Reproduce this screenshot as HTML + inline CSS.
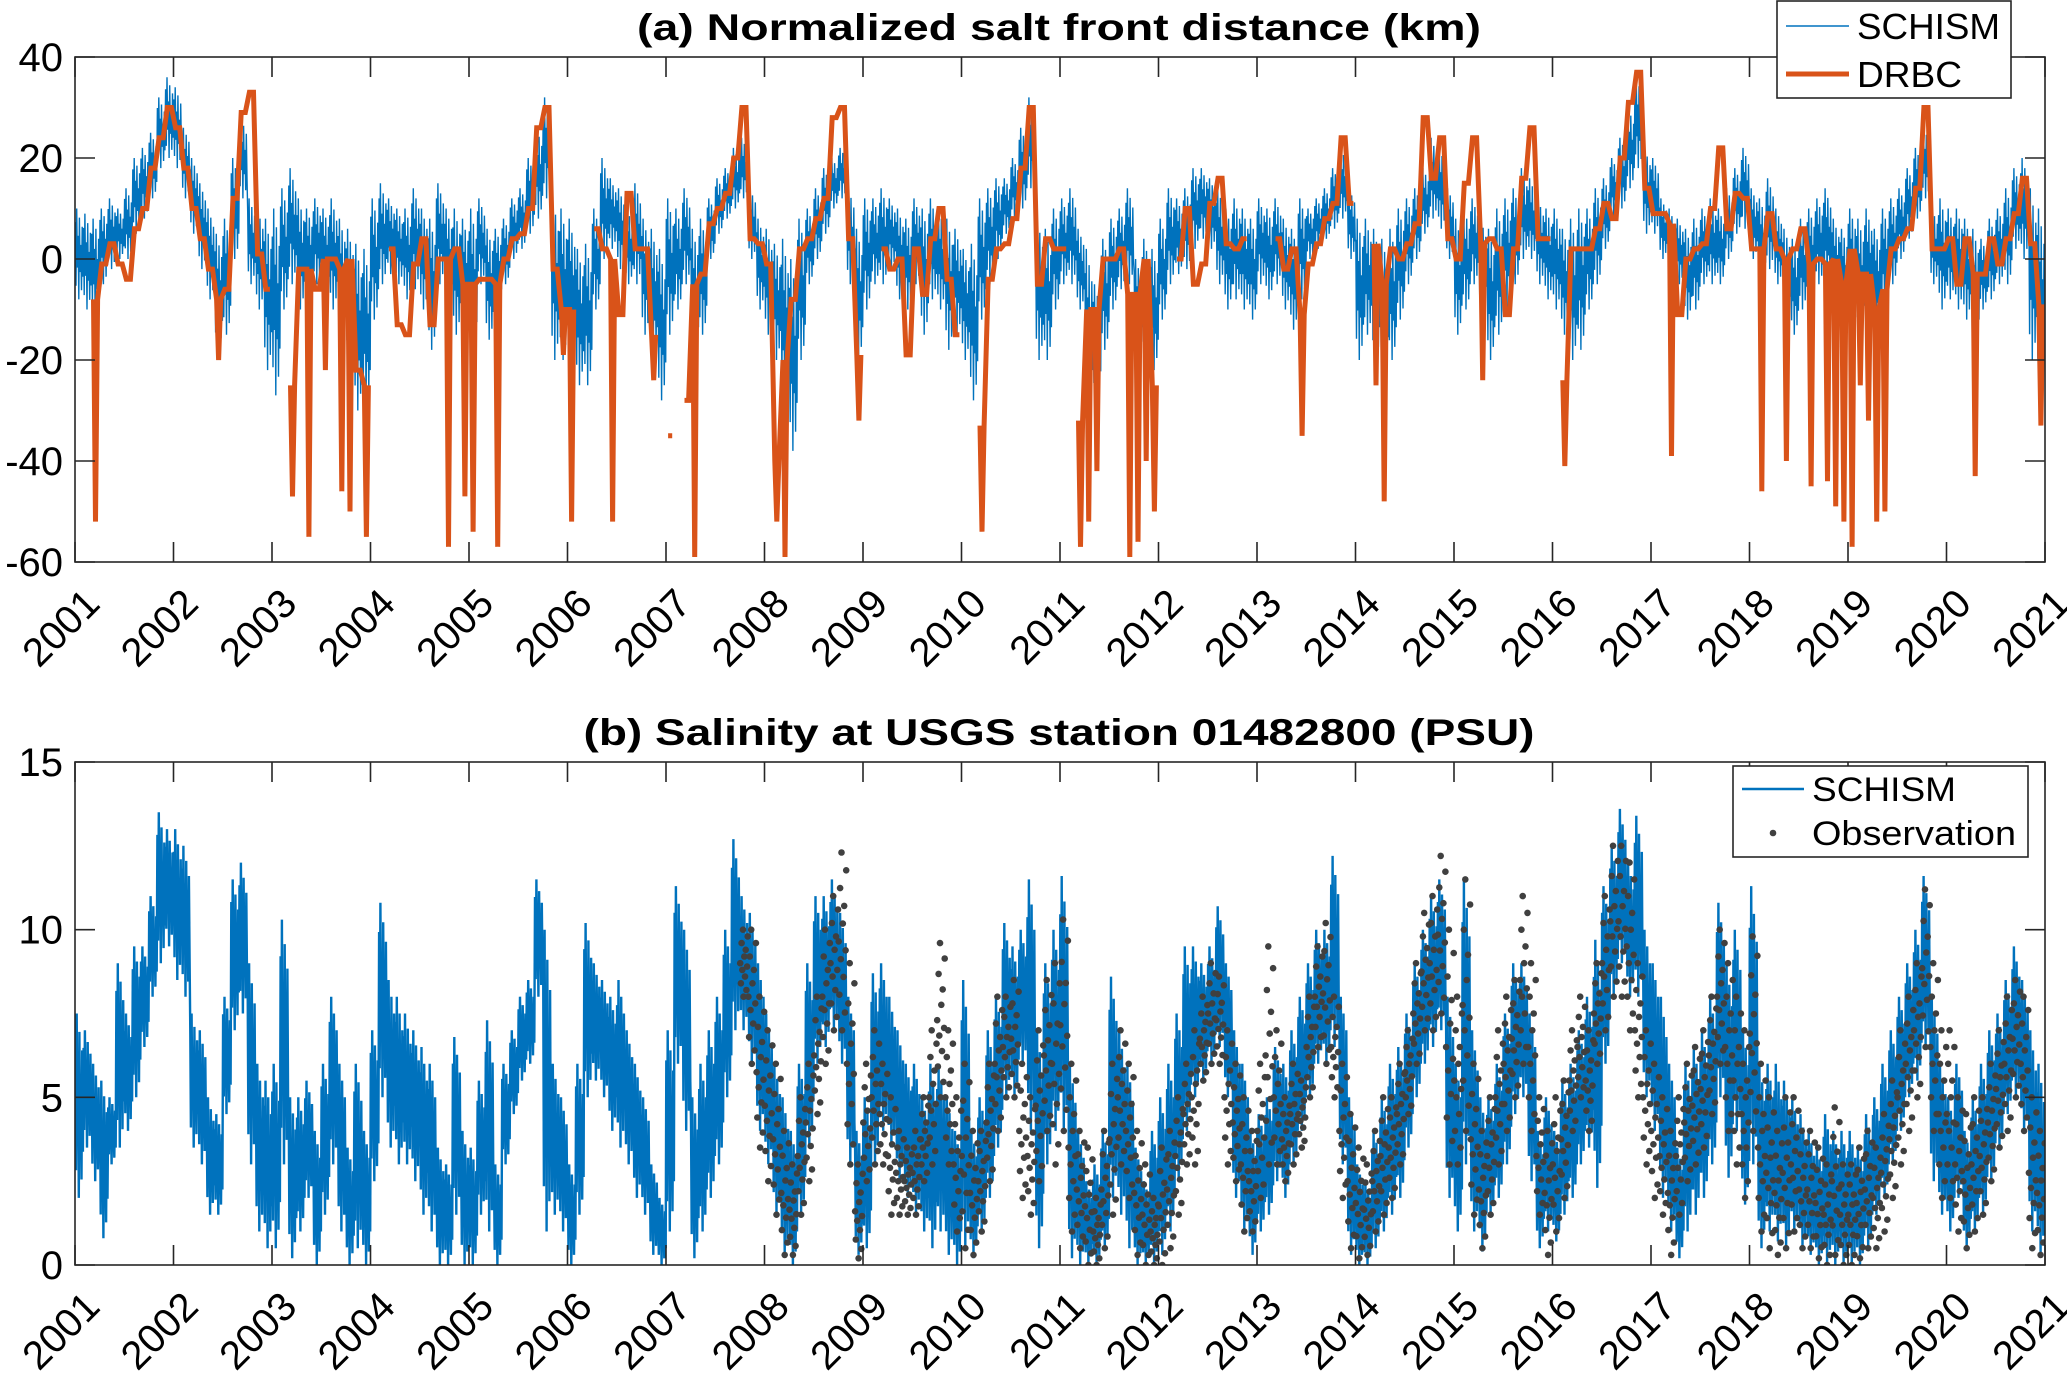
<!DOCTYPE html>
<html><head><meta charset="utf-8"><style>
html,body{margin:0;padding:0;background:#fff;}
svg{display:block;font-family:"Liberation Sans",Arial,sans-serif;}
</style></head><body>
<svg id="chart" width="2067" height="1373" viewBox="0 0 2067 1373" xmlns="http://www.w3.org/2000/svg">
<rect width="2067" height="1373" fill="#fff"/>
<g id="gA"></g>
<g id="gB"></g>
<text x="1059" y="40" text-anchor="middle" font-weight="bold" font-size="37" textLength="844" lengthAdjust="spacingAndGlyphs">(a) Normalized salt front distance (km)</text>
<text x="1059" y="745" text-anchor="middle" font-weight="bold" font-size="37" textLength="951" lengthAdjust="spacingAndGlyphs">(b) Salinity at USGS station 01482800 (PSU)</text>
<g>
<rect x="1777" y="1" width="234" height="97" fill="#fff" stroke="#262626" stroke-width="1.6"/>
<line x1="1786" y1="26" x2="1849" y2="26" stroke="#0072BD" stroke-width="1.6"/>
<text x="1857" y="39" font-size="36" textLength="143" lengthAdjust="spacingAndGlyphs">SCHISM</text>
<line x1="1786" y1="74" x2="1849" y2="74" stroke="#D95319" stroke-width="5"/>
<text x="1857" y="87" font-size="36" textLength="105" lengthAdjust="spacingAndGlyphs">DRBC</text>
</g>
</svg>
<script>
const N = null;
const yearLabels = [2001,2002,2003,2004,2005,2006,2007,2008,2009,2010,2011,2012,2013,2014,2015,2016,2017,2018,2019,2020,2021];
const yTicksA = [40,20,0,-20,-40,-60];
const yTicksB = [15,10,5,0];
const schA_hi = [].concat(
[10,9,8,10,12,10,14,20,22,25,32,36],
[34,26,20,15,10,5,8,20,28,12,10,8],
[10,14,18,12,10,12,10,12,8,6,3,2],
[12,15,12,10,10,14,10,8,15,10,10,8],
[10,12,6,6,8,12,14,20,26,32,12,10],
[8,2,3,10,20,16,14,10,15,8,6,2],
[12,10,14,6,8,12,16,18,22,24,14,8],
[6,3,4,0,8,10,14,18,20,22,14,6],
[12,12,14,12,10,8,12,10,12,10,8,6],
[2,3,12,14,16,16,20,26,32,8,6,10],
[12,14,6,2,-5,4,8,10,14,0,4,2],
[8,14,12,14,18,18,16,14,10,12,10,8],
[12,10,12,8,6,12,10,12,14,18,22,14],
[8,8,6,4,6,10,12,14,18,24,22,14],
[8,10,12,8,6,10,12,14,18,16,12,10],
[10,6,8,10,10,14,16,20,24,30,36,22],
[20,12,10,8,6,8,10,12,10,14,18,22],
[14,12,16,10,6,4,8,10,12,14,8,6],
[10,8,10,6,10,12,14,18,22,26,10,12],
[10,10,8,6,4,8,10,14,18,20,14,10]);
const schA_lo = [].concat(
[-8,-10,-12,-5,-2,0,0,5,8,12,18,20],
[18,12,5,-2,-8,-18,-15,0,12,-5,-10,-22],
[-27,-10,-5,-10,-8,-5,-8,-10,-15,-20,-30,-30],
[-12,-5,-3,-5,-8,-6,-10,-18,-5,-10,-15,-14],
[-20,-5,-16,-10,-5,0,2,5,8,12,-20,-20],
[-20,-25,-25,-10,0,2,-2,-5,-5,-15,-20,-28],
[-15,-10,-5,-20,-15,0,5,8,10,12,0,-10],
[-15,-20,-30,-38,-20,-5,0,5,10,12,-5,-20],
[-10,-5,-5,-2,-8,-10,-5,-15,-8,-10,-18,-15],
[-20,-28,-12,-5,0,5,8,10,14,-20,-20,-10],
[-5,-5,-10,-30,-28,-18,-10,-6,-5,-18,-20,-22],
[-12,-5,-3,-2,2,4,2,-5,-10,-8,-10,-12],
[-5,-8,-5,-10,-14,-8,0,2,4,6,8,0],
[-20,-15,-20,-22,-20,-12,-5,0,5,8,6,0],
[-15,-10,-5,-10,-20,-15,-10,-5,0,0,-5,-8],
[-10,-15,-20,-18,-10,-5,2,8,10,14,18,5],
[5,0,-5,-5,-12,-10,-5,-5,-5,0,5,6],
[0,-5,-2,-5,-12,-15,-10,-8,-5,-5,-10,-12],
[-10,-15,-12,-15,-10,-5,0,4,8,12,-5,-10],
[-8,-10,-12,-18,-10,-8,-5,-5,2,0,-20,-25]);
const drbcVal = [].concat(
[N,N,-8,-1,3,-1,-4,6,10,18,24,30],
[26,18,10,4,-2,-8,-6,12,29,33,1,-6],
[N,N,-25,-2,-2,-6,0,0,-2,0,-22,-25],
[N,N,2,-13,-15,-1,4,-13,0,0,2,-5],
[-5,-4,-4,-5,0,4,5,10,26,30,-2,-10],
[-10,N,N,6,2,0,-11,13,2,2,-15,N],
[-35,N,-28,-5,-3,7,10,13,20,30,4,3],
[-1,-40,-20,-8,2,4,8,12,28,30,4,-19],
[N,N,2,-2,0,-19,2,-7,4,10,-4,-15],
[N,N,-33,-4,2,3,8,18,30,-5,4,2],
[2,N,-32,-10,-10,0,0,2,-7,-7,0,-25],
[N,N,0,10,-5,-1,11,16,3,2,4,N],
[N,N,4,-2,2,-11,-1,3,8,11,24,11],
[N,N,3,-5,2,0,3,7,28,16,24,4],
[0,15,24,3,4,2,-11,2,16,26,4,4],
[N,-24,2,2,2,6,11,8,20,31,37,14],
[9,9,7,-11,0,2,3,10,22,6,13,12],
[2,2,9,2,0,2,6,-1,0,-1,0,-5],
[2,-3,-3,-10,-6,2,4,6,14,30,2,2],
[4,-5,4,-3,-3,4,-1,4,9,16,3,-9]);
const drbcMin = [].concat(
[N,N,-52,N,N,N,N,N,N,N,N,N],
[N,N,N,N,N,-20,N,N,N,N,N,N],
[N,N,-47,N,-55,N,-22,N,-46,-50,N,-55],
[N,N,N,N,N,N,N,N,N,-57,N,-47],
[-54,N,N,-57,N,N,N,N,N,N,N,-19],
[-52,N,N,N,N,-52,N,N,N,N,-24,N],
[N,N,N,-59,N,N,N,N,N,N,N,N],
[N,-52,-59,N,N,N,N,N,N,N,N,-32],
[N,N,N,N,N,N,N,N,N,N,N,N],
[N,N,-54,N,N,N,N,N,N,N,N,N],
[N,N,-57,-52,-42,N,N,N,-59,-56,-40,-50],
[N,N,N,N,N,N,N,N,N,N,N,N],
[N,N,N,N,N,-35,N,N,N,N,N,N],
[N,N,-25,-48,N,N,N,N,N,N,N,N],
[N,N,N,-24,N,N,N,N,N,N,N,N],
[N,-41,N,N,N,N,N,N,N,N,N,N],
[N,N,-39,N,N,N,N,N,N,N,N,N],
[N,-46,N,N,-40,N,N,-45,N,-44,-49,-52],
[-57,-25,-32,-52,-50,N,N,N,N,N,N,N],
[N,N,N,-43,N,N,N,N,N,N,N,-33]);
const schB_hi = [].concat(
[7.5,7,6,5.5,5,9,7.5,9.5,9.5,11,13.5,13],
[13,12.5,7.5,7,5,4.5,8,11.5,12,9,6,5.5],
[6,10.3,5,5,5.5,4,6,8,6,3.5,6,4],
[7,10.8,8.5,8,7.5,7,6.5,6,3.5,3,6.8,4],
[3.5,5.5,7.3,3,6,7,8,8.5,11.5,10,6,5],
[3,6,10.2,9,8.5,8,8.5,7,6,5,3,2],
[7,11.3,10,5,6,7,8,10,12.7,11,10.5,9],
[7.5,6,5,4,6,9,11,11,11.5,10.5,8,4],
[5,8.7,9,8,7,6,6,5,6,6,5,4],
[8.5,4,5,7,8,10.2,9.5,10,11.5,7,9,10],
[11.6,6,4,2.5,3,4,8.6,7,6,3.5,2.5,4],
[5,6,7.5,9.5,9.5,9,9.5,10.7,9,7,6,4],
[4.5,5,6.5,6,7,8,9,10,10,12.2,8,5],
[3,2.5,4,5,6,6.5,7.5,9,10,11,11.5,8],
[6,11.5,7,5,5,6,7.5,9,9,7.5,4,5],
[4,5.5,6,7,8,9.7,11.3,12.5,13.6,12,13.4,10],
[9,8,6,3.5,6,6.5,7,8,10.8,9,10,7],
[11.3,6,6,6,5.5,5,4.5,4,3.5,4.5,4,4],
[4,3.5,4.5,5,6,7,8,9,10,11.6,8,6],
[5,6,4,5,6,7,7.5,8.5,9.5,8.5,7,6]);
const schB_lo = [].concat(
[2,3.5,2.5,0.8,3,3.5,4,5,6.5,8,9,9.5],
[8.5,8,3.5,3,1.5,1.5,4.5,7,7.5,3,1,0.5],
[0.5,3,0.2,1,2,0,1.5,3,1,0,0.5,0],
[2.5,5,3.5,3,3,2.5,1.5,1,0,0,1.5,0],
[0,1.5,1,0,3,4.5,5.5,6,8,1,1.5,1],
[0,1.5,5,5.5,5,4,3.5,3,2,1.5,0.3,0],
[1,6,4,0.2,1,2,3,5,7,7,6,4],
[3,1.5,0.3,0,1.5,3.5,6,6.5,7,6,3,0.3],
[0.5,3,4,3.5,2.5,2,1.5,1,0.5,1,0.3,0],
[0.5,0.2,1,2,3.5,5,5,6,4,0.5,3,4],
[4,0.2,0,0,0,0.5,2,1.5,0.5,0,0,0],
[0.3,1,2.5,4,5,5.5,6,6.5,5,2,1,0.3],
[1,1.5,2.5,2,3,4,5,6,6,6.5,3,0.3],
[0,0,0.5,1,1.5,2,3.5,5,6,6.5,7,2],
[1,3,1,0.4,1.5,2,3,4.5,5,2.5,0.5,1],
[0.7,1.5,2,3,3.5,2.3,6,8,9,8,8,5],
[4,2,1,0.2,1,1.5,2,3,5,2.6,4,1.8],
[3,0.5,1,0.7,0.5,1,0.5,0.3,0,0,0,0],
[0,0,0.5,1.5,2,3,4,5,5.5,6.5,2.5,1.5],
[1,2,0.5,1,1.5,2.5,3.5,4.5,5,4,1,0.3]);
const obsStart = 81;
const obsHi = [].concat(
[10,10,8],
[7,6,4,3,5,6,8,10,11,12.3,9,3],
[6,7,6,5,4,3.5,4,5,7,9.6,7,5],
[6,4,4,6,8,8,8.5,6,5,7,8.5,9],
[10.3,6,4,3.5,2,4,6,7,6,4,3,2],
[3.5,4,5,6,7,8,9,8.6,7,6,5,4],
[6,9.5,7,5,6,5.5,8,9.5,10.2,8,6,4.5],
[3.5,3,4,5,5,6,7,9,10.5,11,12.2,10],
[8,11.5,6,4,5,7,8,8.5,11,9,5,4],
[5,5.5,7,8,7,9,11,12.5,12.5,12,9,7],
[6,5,4,5,6,6.5,7,8,10,9,8,7],
[9.8,6,5,4,5,5,4,4,3.5,3,4.7,3],
[3,3.5,4,3.5,4.5,5.5,7,8,9,11.2,9,7],
[7,5,4.5,5,5,6,7,8,8.5,8,5,4]);
const obsLo = [].concat(
[8,6,3.5],
[2.5,1.5,0.3,0.3,1.5,2.5,4.5,6,7,7,3,0.2],
[2.5,3,3,1.5,1.5,1.5,1.5,2.5,3,5,3,1],
[0.5,0.3,1,2.5,4,5,5,2,1.5,2.5,4,3],
[4,1,0.5,0,0,0.5,1.5,3,2,0.3,0,0],
[0,0.5,1.5,3,3,5.5,6,6,3,2.5,1,1],
[2,3,3,2.5,3,3.5,5,6.5,6,5,2,0.5],
[0.2,0.3,1,1.5,2,3,4.5,6,7,7,7.5,3],
[3,4,1.5,0.5,1.5,3,4,5,6,4,1.5,0.3],
[1,2,4,5,4,6,7,8,8,7,5,3],
[2,1.5,0.3,1.5,2.5,3,3.5,4.5,6,4,3,2],
[4,1,0.5,0.3,0.5,1,0.5,0.5,0.2,0,0.3,0],
[0,0.2,0.5,0.5,1,2,3,4,5,6.5,4,2],
[2,1,0.5,1,1.5,2.5,3.5,4,5,4,0.5,0.3]);

const NS = 'http://www.w3.org/2000/svg';
const X0 = 75, X1 = 2045, NM = 240;
const A = {top:57, bot:562, ymax:40, ymin:-60};
const B = {top:762, bot:1265, ymax:15, ymin:0};
function xs(t){ return X0 + t/NM*(X1-X0); }
function ysA(v){ return A.top + (A.ymax-v)/(A.ymax-A.ymin)*(A.bot-A.top); }
function ysB(v){ return B.top + (B.ymax-v)/(B.ymax-B.ymin)*(B.bot-B.top); }
function mk(tag, attrs, parent){ const e=document.createElementNS(NS,tag); for(const k in attrs) e.setAttribute(k,attrs[k]); parent.appendChild(e); return e; }
const fr = [0.85,0.15,1,0.35,0.7,0,0.9,0.3,0.6,0.1,0.8,0.25];

function drawBand(g, hi, lo, ys, sw){
  let d='';
  for(let m=0;m<NM;m++){
    for(let j=0;j<fr.length;j++){
      const t=m+(j+0.5)/fr.length;
      const v=lo[m]+(hi[m]-lo[m])*fr[j];
      d+=(d?'L':'M')+xs(t).toFixed(1)+' '+ys(v).toFixed(1);
    }
  }
  return mk('path',{d:d,fill:'none',stroke:'#0072BD','stroke-width':sw,'stroke-linejoin':'miter'},g);
}
function axes(g, P, ticks, ys, name){
  const box = mk('rect',{x:X0,y:P.top,width:X1-X0,height:P.bot-P.top,fill:'none',stroke:'#262626','stroke-width':1.6},g);
  
  
  yearLabels.forEach((yr,i)=>{
    const x=xs(i*12);
    const tk=mk('path',{d:`M${x} ${P.bot}V${P.bot-20}M${x} ${P.top}V${P.top+20}`,stroke:'#262626','stroke-width':1.6},g);
    
    
    const tx=mk('text',{transform:`translate(${x+17},${P.bot+34}) rotate(-45)`,'text-anchor':'end','font-size':40,'dy':'0.35em',fill:'#000'},g);
    tx.textContent=yr;
    
    
  });
  ticks.forEach(v=>{
    const y=ys(v);
    const tk=mk('path',{d:`M${X0} ${y}H${X0+20}M${X1} ${y}H${X1-20}`,stroke:'#262626','stroke-width':1.6},g);
    
    
    const tx=mk('text',{x:X0-12,y:y+14,'text-anchor':'end','font-size':40,fill:'#000'},g);
    tx.textContent=v;
    
    
  });
}

// Panel A
const gA=document.getElementById('gA');
const clipA=mk('clipPath',{id:'cA'},gA); mk('rect',{x:X0,y:A.top,width:X1-X0,height:A.bot-A.top},clipA);
const dA=mk('g',{'clip-path':'url(#cA)'},gA);
const bandA=drawBand(dA, schA_hi, schA_lo, ysA, 1.4);


let dd='', pen=false;
for(let m=0;m<NM;m++){
  const v=drbcVal[m];
  if(v===null){ pen=false; continue; }
  const pts=[[m+0.25,v]];
  if(drbcMin[m]!==null){ pts.push([m+0.5,drbcMin[m]]); }
  pts.push([m+0.75,v]);
  pts.forEach(p=>{ dd+=(pen?'L':'M')+xs(p[0]).toFixed(1)+' '+ysA(p[1]).toFixed(1); pen=true; });
}
const drbcPath=mk('path',{d:dd,fill:'none',stroke:'#D95319','stroke-width':5,'stroke-linejoin':'miter','stroke-miterlimit':2},dA);


axes(gA, A, yTicksA, ysA, 'panel-a');

// Panel B
const gB=document.getElementById('gB');
const clipB=mk('clipPath',{id:'cB'},gB); mk('rect',{x:X0,y:B.top-2,width:X1-X0,height:B.bot-B.top+2},clipB);
const dB=mk('g',{'clip-path':'url(#cB)'},gB);
const bandB=drawBand(dB, schB_hi, schB_lo, ysB, 2.4);


const obsG=mk('g',{fill:'#404040'},dB);


const ofr=[0.5,0.2,0.8,0.4,1,0,0.6,0.3,0.7,0.1,0.45,0.9];
for(let i=0;i<obsHi.length;i++){
  const m=obsStart+i;
  for(let j=0;j<ofr.length;j++){
    const t=m+(j+0.5)/ofr.length;
    const v=obsLo[i]+(obsHi[i]-obsLo[i])*ofr[j];
    const c=mk('circle',{cx:xs(t).toFixed(1),cy:ysB(v).toFixed(1),r:3.3},obsG);
    
    
  }
}
axes(gB, B, yTicksB, ysB, 'panel-b');

// Legend B
const lg=mk('g',{},gB);


mk('rect',{x:1733,y:766,width:295,height:91,fill:'#fff',stroke:'#262626','stroke-width':1.6},lg);
const l1=mk('line',{x1:1742,y1:789,x2:1804,y2:789,stroke:'#0072BD','stroke-width':2.4},lg);


const t1=mk('text',{x:1812,y:801,'font-size':34,textLength:144,lengthAdjust:'spacingAndGlyphs'},lg);
t1.textContent='SCHISM';


const c1=mk('circle',{cx:1773,cy:833,r:3.3,fill:'#404040'},lg);


const t2=mk('text',{x:1812,y:845,'font-size':34,textLength:204,lengthAdjust:'spacingAndGlyphs'},lg);
t2.textContent='Observation';


</script>
</body></html>
